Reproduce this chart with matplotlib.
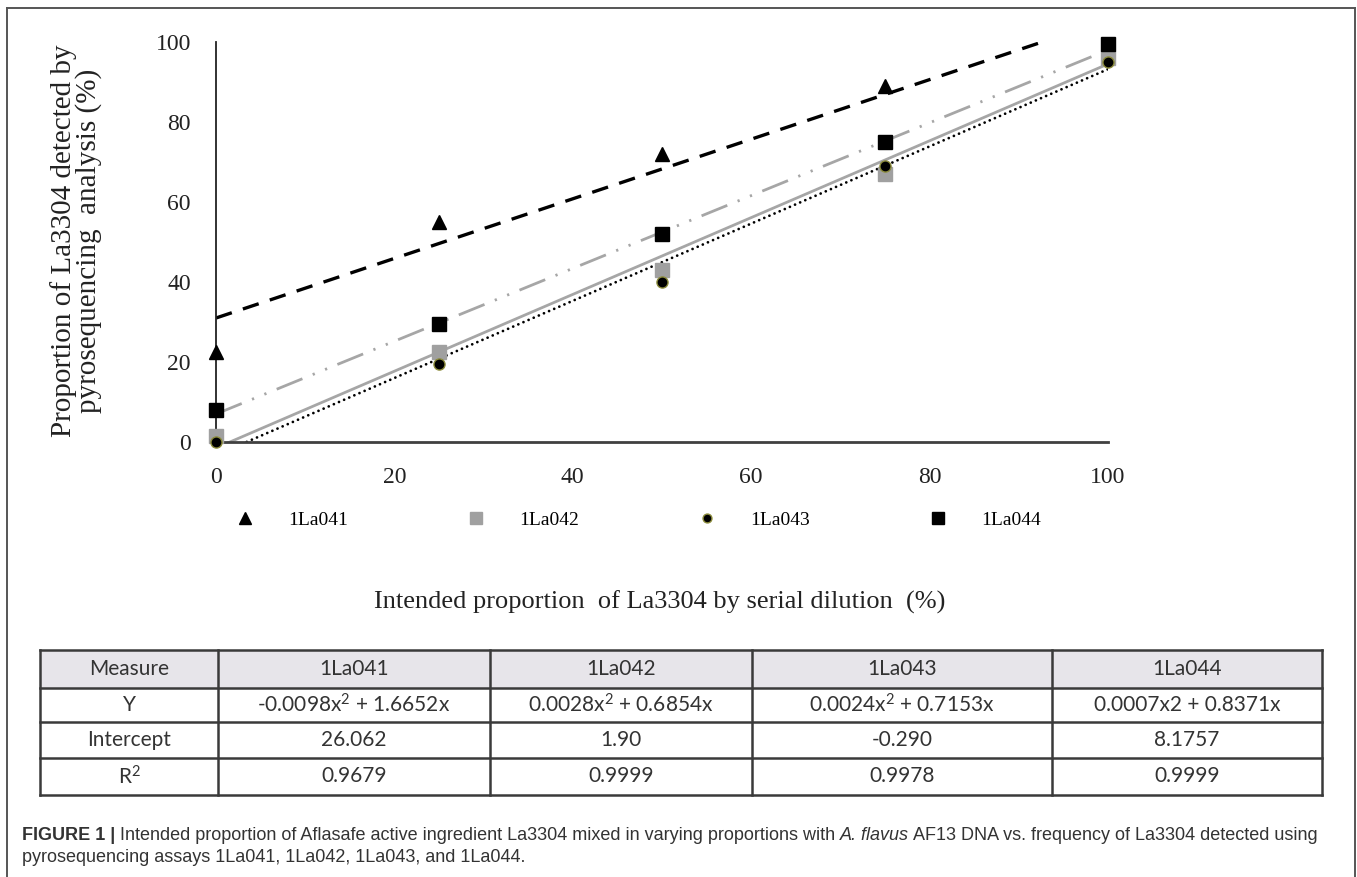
import numpy as np
import matplotlib
matplotlib.use("Agg")
import matplotlib.pyplot as plt
from matplotlib.lines import Line2D
from matplotlib.patches import Rectangle

plt.rcParams["mathtext.fontset"] = "custom"
plt.rcParams["mathtext.rm"] = "Lato"
plt.rcParams["mathtext.it"] = "Lato:italic"

# ---------------- data ----------------
x_vals = [0, 25, 50, 75, 100]
y_1La041 = [22.5, 55, 72, 89, np.nan]
y_1La042 = [1.5, 22.5, 43, 67, 96]
y_1La043 = [0, 19.5, 40, 69, 95]
y_1La044 = [8, 29.5, 52, 75, 99.5]
series_names = ["1La041", "1La042", "1La043", "1La044"]
# linear trend lines (intercept, slope)
trend_intercepts = [31, -1.5, -3.3, 7]
trend_slopes = [0.745, 0.96, 0.965, 0.91]

x_ticks = [0, 20, 40, 60, 80, 100]
y_ticks = [0, 20, 40, 60, 80, 100]

table_header = ["Measure", "1La041", "1La042", "1La043", "1La044"]
table_rows = [
    ["Y", "-0.0098x$^2$ + 1.6652x", "0.0028x$^2$ + 0.6854x", "0.0024x$^2$ + 0.7153x", "0.0007x2 + 0.8371x"],
    ["Intercept", "26.062", "1.90", "-0.290", "8.1757"],
    ["R$^2$", "0.9679", "0.9999", "0.9978", "0.9999"],
]

# ---------------- figure ----------------
W, H = 1357, 877
fig = plt.figure(figsize=(W / 100, H / 100), dpi=100)

def fx(px):
    return px / W

def fy(py):
    return 1 - py / H

serif = "Liberation Serif"

ax = fig.add_axes([fx(216), fy(442), fx(1108) - fx(216), fy(42) - fy(442)])
ax.set_xlim(0, 100)
ax.set_ylim(0, 100)
for s in ["top", "right"]:
    ax.spines[s].set_visible(False)
ax.spines["left"].set_color("#222222")
ax.spines["left"].set_linewidth(1.3)
ax.spines["bottom"].set_color("#404040")
ax.spines["bottom"].set_linewidth(2.0)
ax.set_xticks(x_ticks)
ax.set_yticks(y_ticks)
ax.tick_params(length=0, labelsize=17)
ax.tick_params(axis="y", pad=18)
ax.tick_params(axis="x", pad=18)
for lab in ax.get_xticklabels() + ax.get_yticklabels():
    lab.set_fontfamily(serif)
    lab.set_color("#222222")

xs = np.array(x_vals, dtype=float)
xline = np.array([0, 100], dtype=float)

line_styles = [
    dict(color="black", lw=2.4, ls=(0, (5, 3.5))),
    dict(color="#a6a6a6", lw=2.0, ls="-"),
    dict(color="black", lw=2.0, ls=(0, (0.01, 2.0)), dash_capstyle="round"),
    dict(color="#a6a6a6", lw=2.0, ls=(0, (10, 4, 0.8, 4, 0.8, 4))),
]
for b, m, st in zip(trend_intercepts, trend_slopes, line_styles):
    ax.plot(xline, b + m * xline, zorder=2, **st)

mk = [
    dict(marker="^", color="black", ms=10, mec="black"),
    dict(marker="s", color="#a0a0a0", ms=10, mec="#a0a0a0"),
    dict(marker="o", color="black", ms=8, mec="#8c8c3c", mew=1.0),
    dict(marker="s", color="black", ms=10, mec="black"),
]
all_y = [y_1La041, y_1La042, y_1La043, y_1La044]
order = [1, 2, 0, 3]
for i in order:
    ax.plot(xs, all_y[i], ls="none", clip_on=False, zorder=3 + i, **mk[i])

# legend
handles = [Line2D([], [], ls="none", **{**mk[i], "ms": mk[i]["ms"] * 0.8}) for i in range(4)]
leg = fig.legend(handles, series_names, loc="center", bbox_to_anchor=(fx(638), fy(520)),
                 ncol=4, frameon=False, handlelength=1.0, handletextpad=1.7,
                 columnspacing=6.1, prop={"family": serif, "size": 14})

# axis labels
fig.text(fx(660), fy(602), "Intended proportion  of La3304 by serial dilution  (%)",
         ha="center", va="center", family=serif, fontsize=19, color="#222222")
fig.text(fx(76), fy(241), "Proportion of La3304 detected by\npyrosequencing  analysis (%)",
         ha="center", va="center", rotation=90, family=serif, fontsize=21,
         color="#222222", linespacing=0.95)

# ---------------- table ----------------
col_edges = [40, 218, 490, 752, 1052, 1322]
row_edges = [650, 688, 722, 758, 795]
tcol = "#3a3a3a"
fig.add_artist(Rectangle((fx(col_edges[0]), fy(row_edges[1])),
                         fx(col_edges[-1]) - fx(col_edges[0]), fy(row_edges[0]) - fy(row_edges[1]),
                         transform=fig.transFigure, facecolor="#e7e5ea", edgecolor="none", zorder=0))
for yy in row_edges:
    fig.add_artist(Line2D([fx(col_edges[0]), fx(col_edges[-1])], [fy(yy), fy(yy)],
                          transform=fig.transFigure, color=tcol, lw=1.8))
for xx in col_edges:
    fig.add_artist(Line2D([fx(xx), fx(xx)], [fy(row_edges[0]), fy(row_edges[-1])],
                          transform=fig.transFigure, color=tcol, lw=1.8))
tfont = "Lato"
all_rows = [table_header] + table_rows
for r, row in enumerate(all_rows):
    yc = (row_edges[r] + row_edges[r + 1]) / 2
    for c, txt in enumerate(row):
        xc = (col_edges[c] + col_edges[c + 1]) / 2
        fig.text(fx(xc), fy(yc), txt, ha="center", va="center", family=tfont,
                 fontsize=15, color="#333333")

# ---------------- frame ----------------
fcol = "#555555"
for seg in [([7, 1355], [8, 8]), ([7, 7], [8, 877]), ([1355, 1355], [8, 877])]:
    fig.add_artist(Line2D([fx(v) for v in seg[0]], [fy(v) for v in seg[1]],
                          transform=fig.transFigure, color=fcol, lw=1.4))

# ---------------- caption ----------------
cap_font = "Liberation Sans"
cap_size = 13
cap_color = "#333333"
fig.canvas.draw()
renderer = fig.canvas.get_renderer()

def draw_pieces(pieces, x0, y0):
    x = x0
    for txt, weight, style in pieces:
        t = fig.text(fx(x), fy(y0), txt, ha="left", va="center", family=cap_font,
                     fontsize=cap_size, fontweight=weight, fontstyle=style, color=cap_color)
        bb = t.get_window_extent(renderer=renderer)
        x += bb.width

line1 = [("FIGURE 1 | ", "bold", "normal"),
         ("Intended proportion of Aflasafe active ingredient La3304 mixed in varying proportions with ", "normal", "normal"),
         ("A. flavus", "normal", "italic"),
         (" AF13 DNA vs. frequency of La3304 detected using", "normal", "normal")]
line2 = [("pyrosequencing assays 1La041, 1La042, 1La043, and 1La044.", "normal", "normal")]
draw_pieces(line1, 22, 836)
draw_pieces(line2, 22, 858)

fig.savefig("out.png", dpi=100, facecolor="white")
